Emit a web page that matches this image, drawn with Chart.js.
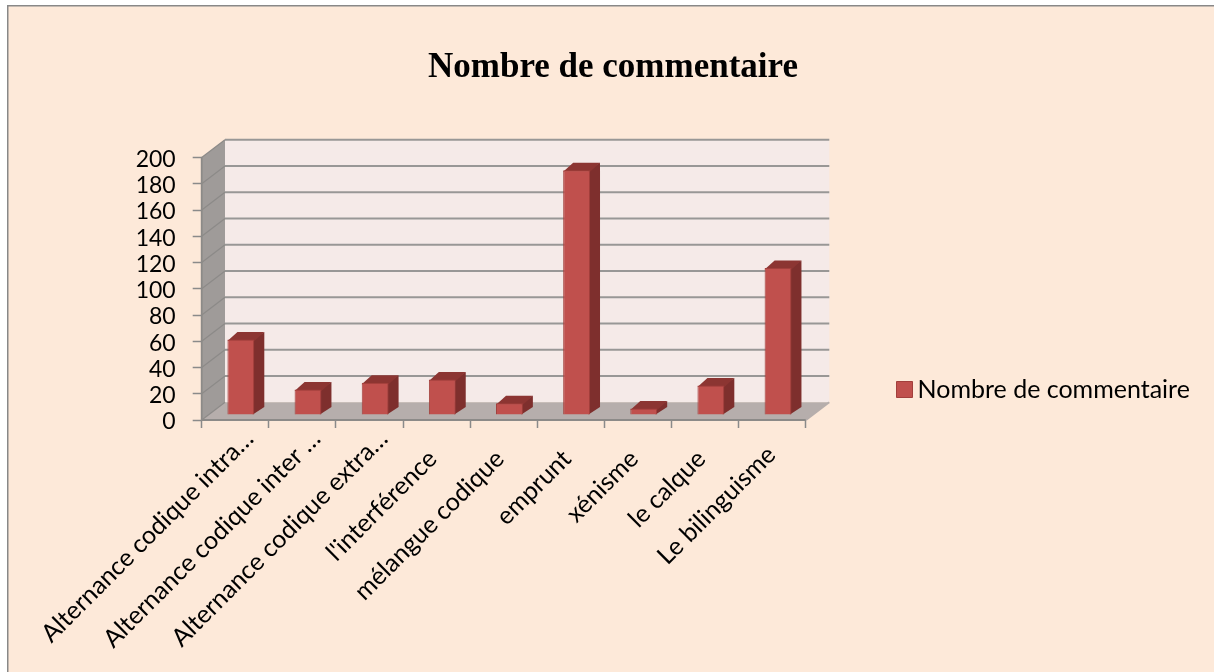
<!DOCTYPE html>
<html><head><meta charset="utf-8">
<style>html,body{margin:0;padding:0;background:#fff;overflow:hidden}canvas{display:block;filter:blur(0.45px)}</style>
<script src="https://cdn.jsdelivr.net/npm/chart.js@4"></script></head>
<body><div style="width:1214px;height:672px"><canvas id="c" width="1214" height="672"></canvas></div>
<script>
const categories = ["Alternance codique intra…","Alternance codique inter …","Alternance codique extra…","l'interférence","mélangue codique","emprunt","xénisme","le calque","Le bilinguisme"];
const seriesName = "Nombre de commentaire";
const seriesValues = [57.5,19.5,24.5,27,9,186.5,5,22.5,112];
const yMax = 200, yStep = 20;

const PAGE='#FDE9D9', WALL='#F5EAE8', FLOOR='#B6AEAC', SIDE='#9F9B99', GRID='#989796', SIDEGRID='#8C8A88';
const FRONT='#C0504D', EDGE='#A23F3C', DARK='#7E2F2D', TOP='#8C3532';
const DEPTH={x:23.3,y:-17.7}, BAR={x:5.6,y:-5}, BARD={x:10,y:-7.5};

function poly(ctx,pts,fill){ctx.beginPath();pts.forEach((p,i)=>i?ctx.lineTo(p[0],p[1]):ctx.moveTo(p[0],p[1]));ctx.closePath();ctx.fillStyle=fill;ctx.fill();}
function labelNudge(text,i,n){
  if(text.endsWith('…')) return [0,-8];
  if(i===n-1) return [-15,8];
  return [-18,12];
}

const scene={id:'scene',
  beforeLayout(chart){const lg=chart.legend;if(lg&&!lg._w){lg._w=1;const f=lg.fit;lg.fit=function(){f.call(this);this.width=408;this.minSize&&(this.minSize.width=408);};}},
  afterLayout(chart){const lg=chart.legend;lg.left=894;lg.right=1214;lg.top=378;lg.bottom=401;
    const tb=chart.titleBlock;tb.left=12;tb.right=1214;},
  beforeDraw(chart){const c=chart.ctx;c.save();c.fillStyle='#fff';c.fillRect(0,0,1214,672);c.fillStyle='#888';c.fillRect(7,5,1207,667);c.fillStyle=PAGE;c.fillRect(8.5,6.5,1206,666);c.restore();
    const xi=chart.scales.x.getLabelItems(),yi=chart.scales.y.getLabelItems();
    xi.forEach((it,i)=>{if(it._n)return;it._n=1;const d=labelNudge(it.label,i,xi.length);it.options.translation[0]+=d[0];it.options.translation[1]+=d[1];});
    yi.forEach(it=>{if(it._n)return;it._n=1;it.options.translation[1]+=2;});
  },
  beforeDatasetsDraw(chart){
    const c=chart.ctx,a=chart.chartArea,y=chart.scales.y;c.save();
    const L=a.left,R=a.right,T=a.top,B=a.bottom,dx=DEPTH.x,dy=DEPTH.y;
    poly(c,[[L+dx,T+dy],[R+dx,T+dy],[R+dx,B+dy],[L+dx,B+dy]],WALL);
    poly(c,[[L,T],[L+dx,T+dy],[L+dx,B+dy],[L,B]],SIDE);
    poly(c,[[L,B],[L+dx,B+dy],[R+dx,B+dy],[R,B]],FLOOR);
    y.ticks.forEach(t=>{const p=y.getPixelForValue(t.value);
      c.strokeStyle=SIDEGRID;c.lineWidth=1.2;c.beginPath();c.moveTo(L,p);c.lineTo(L+dx,p+dy);c.stroke();
      if(t.value>0){c.strokeStyle=GRID;c.lineWidth=2;c.beginPath();c.moveTo(L+dx,p+dy);c.lineTo(R+dx,p+dy);c.stroke();}
    });
    c.strokeStyle=SIDEGRID;c.lineWidth=1.8;c.beginPath();c.moveTo(L,T);c.lineTo(L,B);c.lineTo(R,B);c.stroke();
    c.strokeStyle=FLOOR;c.beginPath();c.moveTo(R,B);c.lineTo(R+dx,B+dy);c.stroke();
    c.restore();
  },
  beforeDatasetDraw(chart,args){
    const c=chart.ctx;
    c.save();c.translate(BAR.x,BAR.y);
    args.meta.data.forEach(b=>{const l=b.x-b.width/2,r=b.x+b.width/2,t=b.y,m=b.base,dx=BARD.x,dy=BARD.y;
      poly(c,[[r-1.5,t],[r+dx,t+dy],[r+dx,m+dy],[r-1.5,m]],DARK);
      poly(c,[[l,t+1.5],[l+dx,t+dy],[r+dx,t+dy],[r,t+1.5]],TOP);
    });
  },
  afterDatasetDraw(chart){chart.ctx.restore();}
};

new Chart(document.getElementById('c'),{type:'bar',
  data:{labels:categories,datasets:[{label:seriesName,data:seriesValues,backgroundColor:FRONT,borderColor:EDGE,borderWidth:1,barPercentage:0.4,categoryPercentage:1}]},
  plugins:[scene],
  options:{responsive:false,animation:false,events:[],
    layout:{padding:0},
    plugins:{
      title:{display:true,text:seriesName,color:'#000',font:{family:'"Liberation Serif"',size:35,weight:'bold',lineHeight:1.2},padding:{top:47,bottom:68.5}},
      legend:{display:true,position:'right',labels:{color:'#000',font:{family:'Lato',size:25},usePointStyle:true,pointStyle:'rect',boxWidth:1,boxHeight:16,padding:10}},
      tooltip:{enabled:false}
    },
    scales:{
      x:{afterFit(s){s.height=252;},
        grid:{offset:true,drawOnChartArea:false,drawTicks:true,tickLength:8,tickColor:'#8A8A8A',tickWidth:1.5},border:{display:false},
        ticks:{autoSkip:false,maxRotation:45,minRotation:45,color:'#000',padding:4,labelOffset:14,font:{family:'Lato',size:25}}},
      y:{min:0,max:yMax,afterFit(s){s.width=201.7;},
        grid:{drawOnChartArea:false,drawTicks:true,tickLength:9,tickColor:'#8A8A8A',tickWidth:1.5},border:{display:false},
        ticks:{autoSkip:false,stepSize:yStep,color:'#000',padding:17,font:{family:'Lato',size:23}}}
    }
  }
});
</script></body></html>
